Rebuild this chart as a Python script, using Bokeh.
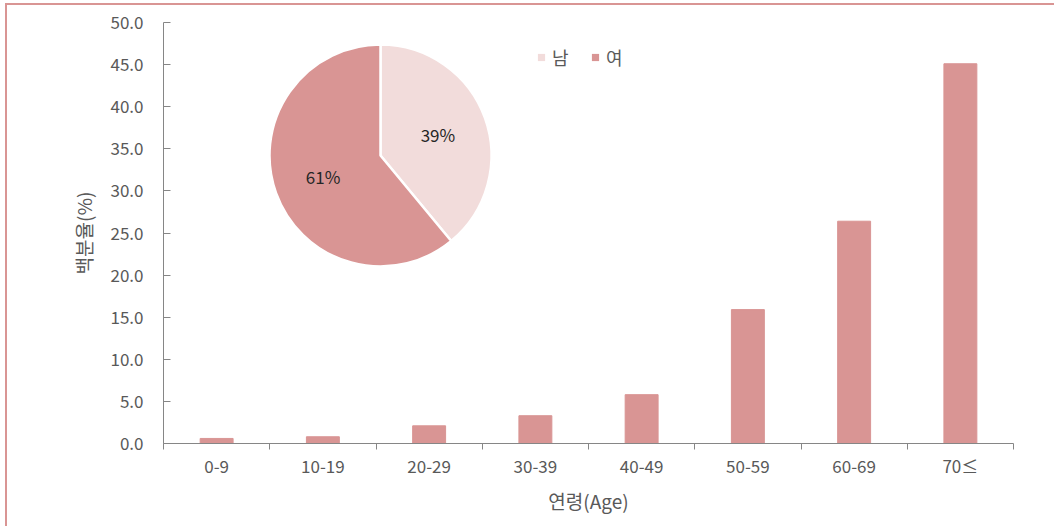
import numpy as np
from bokeh.plotting import figure
from bokeh.models import (Range1d, LinearAxis, FixedTicker,
                          NumeralTickFormatter, ColumnDataSource, Legend, LegendItem)
from bokeh.core.properties import value
from bokeh.embed import file_html
from bokeh.resources import INLINE

# ---------------- data ----------------
age_groups = ["0-9", "10-19", "20-29", "30-39", "40-49", "50-59", "60-69", "70≤"]
percent = [0.6, 0.8, 2.1, 3.3, 5.8, 15.9, 26.4, 45.1]
y_ticks = [0, 5, 10, 15, 20, 25, 30, 35, 40, 45, 50]
sex_labels = ["남", "여"]
sex_share = [39, 61]

# ---------------- style / layout ----------------
BAR = "#D99594"
LIGHT = "#F2DCDB"
AXIS = "#868686"
TEXT = "#595959"
FONT = "Noto Sans CJK KR"
OFF_X, OFF_Y = 7, 5                            # page border (margin + 2px line)
W, H = 1056 - OFF_X, 528 - OFF_Y
FL, FR, FT, FB = 163 - OFF_X, 1013 - OFF_X, 22 - OFF_Y, 443 - OFF_Y   # frame edges (px in figure)
PIE_X, PIE_Y, PIE_R = 380 - OFF_X, H - (155 - OFF_Y), 111             # pie centre (y from bottom)
LABEL_R = 0.55 * PIE_R

n = len(age_groups)
centers = np.arange(n) + 0.5

p = figure(width=W, height=H, x_range=Range1d(0, n), y_range=Range1d(0, 50),
           output_backend="svg", toolbar_location=None,
           x_axis_location=None, y_axis_location=None,
           min_border_left=FL, min_border_right=W - FR, min_border_top=FT, min_border_bottom=H - FB,
           styles={"margin-left": "5px", "margin-top": "3px",
                   "border-left": f"2px solid {BAR}", "border-top": f"2px solid {BAR}"})
p.outline_line_color = None
p.xgrid.visible = False
p.ygrid.visible = False
p.background_fill_color = "white"
p.border_fill_color = "white"

p.extra_x_ranges = {"pxx": Range1d(FL, FR)}
p.extra_y_ranges = {"pxy": Range1d(H - FB, H - FT)}

# y axis
yaxis = LinearAxis(ticker=FixedTicker(ticks=y_ticks), formatter=NumeralTickFormatter(format="0.0"),
                   axis_label="백분율(%)")
yaxis.axis_line_color = AXIS
yaxis.major_tick_line_color = AXIS
yaxis.major_tick_in = 7
yaxis.major_tick_out = 0
yaxis.minor_tick_line_color = None
yaxis.major_label_text_font = FONT
yaxis.major_label_text_font_size = "17px"
yaxis.major_label_text_color = TEXT
yaxis.major_label_standoff = 20
yaxis.axis_label_text_font = FONT
yaxis.axis_label_text_font_size = "19px"
yaxis.axis_label_text_font_style = "normal"
yaxis.axis_label_text_color = TEXT
yaxis.axis_label_standoff = 10
p.add_layout(yaxis, "left")

# x axis: labels at category centres, minor ticks at category boundaries
xaxis = LinearAxis(ticker=FixedTicker(ticks=list(centers), minor_ticks=list(range(n + 1))),
                   axis_label="연령(Age)",
                   major_label_overrides={float(c): lab for c, lab in zip(centers, age_groups)})
xaxis.axis_line_color = AXIS
xaxis.major_tick_line_color = None
xaxis.major_tick_in = 0
xaxis.major_tick_out = 0
xaxis.minor_tick_line_color = AXIS
xaxis.minor_tick_in = 0
xaxis.minor_tick_out = 6
xaxis.major_label_text_font = FONT
xaxis.major_label_text_font_size = "17px"
xaxis.major_label_text_color = TEXT
xaxis.major_label_standoff = 3
xaxis.axis_label_text_font = FONT
xaxis.axis_label_text_font_size = "19px"
xaxis.axis_label_text_font_style = "normal"
xaxis.axis_label_text_color = TEXT
xaxis.axis_label_standoff = 6
p.add_layout(xaxis, "below")

# bars
bar_src = ColumnDataSource(dict(x=centers, top=percent, age=age_groups))
p.vbar(x="x", top="top", width=0.31, fill_color=BAR, line_color=BAR, source=bar_src)

# pie
share = np.array(sex_share, dtype=float)
angles = share / share.sum() * 2 * np.pi
start = np.pi / 2 - np.concatenate([[0.0], np.cumsum(angles)[:-1]])
end = start - angles
mid = (start + end) / 2
pie_src = ColumnDataSource(dict(x=[PIE_X] * len(sex_share), y=[PIE_Y] * len(sex_share),
                                start=start, end=end, color=[LIGHT, BAR], label=sex_labels))
p.wedge(x="x", y="y", radius=PIE_R, radius_units="screen", start_angle="start", end_angle="end",
        direction="clock", fill_color="color", line_color="white", line_width=2.5,
        source=pie_src, x_range_name="pxx", y_range_name="pxy")
lab_src = ColumnDataSource(dict(x=PIE_X + LABEL_R * np.cos(mid), y=PIE_Y + LABEL_R * np.sin(mid),
                                t=[f"{v}%" for v in sex_share]))
p.text(x="x", y="y", text="t", source=lab_src, x_range_name="pxx", y_range_name="pxy",
       text_font=value(FONT), text_font_size="17px", text_color="#262626",
       text_align="center", text_baseline="middle")

# legend (marker renderers kept outside the visible range)
items = []
for lab, col in zip(sex_labels, [LIGHT, BAR]):
    r = p.scatter(x=[-100], y=[-100], marker="square", size=7, fill_color=col, line_color=None)
    items.append(LegendItem(label=lab, renderers=[r]))
legend = Legend(items=items, orientation="horizontal", location=(532 - OFF_X - FL, FB - 70 + OFF_Y))
legend.glyph_width = 18
legend.glyph_height = 18
legend.label_standoff = 2
legend.spacing = 14
legend.padding = 0
legend.margin = 0
legend.border_line_color = None
legend.background_fill_alpha = 0
legend.label_text_font = FONT
legend.label_text_font_size = "18px"
legend.label_text_color = TEXT
p.add_layout(legend)

open("out.html", "w").write(file_html(p, INLINE))
